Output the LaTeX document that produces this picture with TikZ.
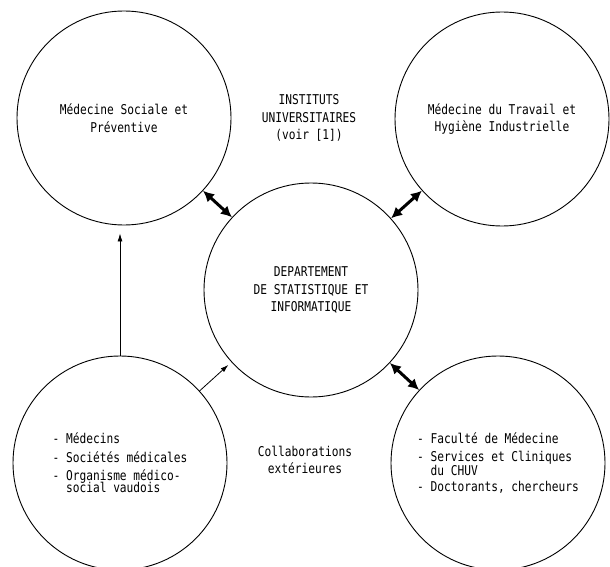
\documentclass[tikz,border=0pt]{standalone}
\usepackage{fontspec}
\setmainfont{DejaVu Sans Mono}[FakeStretch=0.83]
\usetikzlibrary{arrows.meta}

\begin{document}
\begin{tikzpicture}[x=1pt, y=-1pt,
	bulle/.style={circle, draw, line width=0.9pt, minimum size=214pt, inner sep=0pt},
	texte/.style={align=center, font=\fontsize{13.5}{17.5}\selectfont},
	liste/.style={align=left, font=\fontsize{13.5}{17.5}\selectfont},
	lien/.style={<->, >={Latex[length=11pt,width=11pt]}, line width=3pt},
	fleche/.style={-{Latex[length=8pt,width=5pt]}, line width=0.8pt}]
	\useasboundingbox (0,0) rectangle (610,567);

	\node [bulle, texte] (msp) at (124,118) {Médecine Sociale et\\Préventive};
	\node [bulle, texte] (mth) at (502,119) {Médecine du Travail et\\Hygiène Industrielle};
	\node [bulle, texte] (dsi) at (311,290) {DEPARTEMENT\\DE STATISTIQUE ET\\INFORMATIQUE};
	\node [bulle, liste] (ext) at (120,463) {- Médecins\\[1pt]- Sociétés médicales\\[1pt]- Organisme médico-\\[-5.5pt]\phantom{- }social vaudois};
	\node [bulle, liste] (fac) at (498,463) {- Faculté de Médecine\\[1pt]- Services et Cliniques\\[-4pt]\phantom{- }du CHUV\\[-1pt]- Doctorants, chercheurs};

	\node [texte] (inst) at (309,118) {INSTITUTS\\UNIVERSITAIRES\\(voir [1])};
	\node [texte] (collab) at (305,460) {Collaborations\\extérieures};

	\draw [lien] (msp) -- (dsi);
	\draw [lien] (mth) -- (dsi);
	\draw [lien] (dsi) -- (fac);

	\draw [fleche, shorten >=4pt] (ext) -- (dsi);
	\draw [fleche, shorten >=8pt] (ext.north) -- (ext.north |- msp.south);
\end{tikzpicture}
\end{document}
